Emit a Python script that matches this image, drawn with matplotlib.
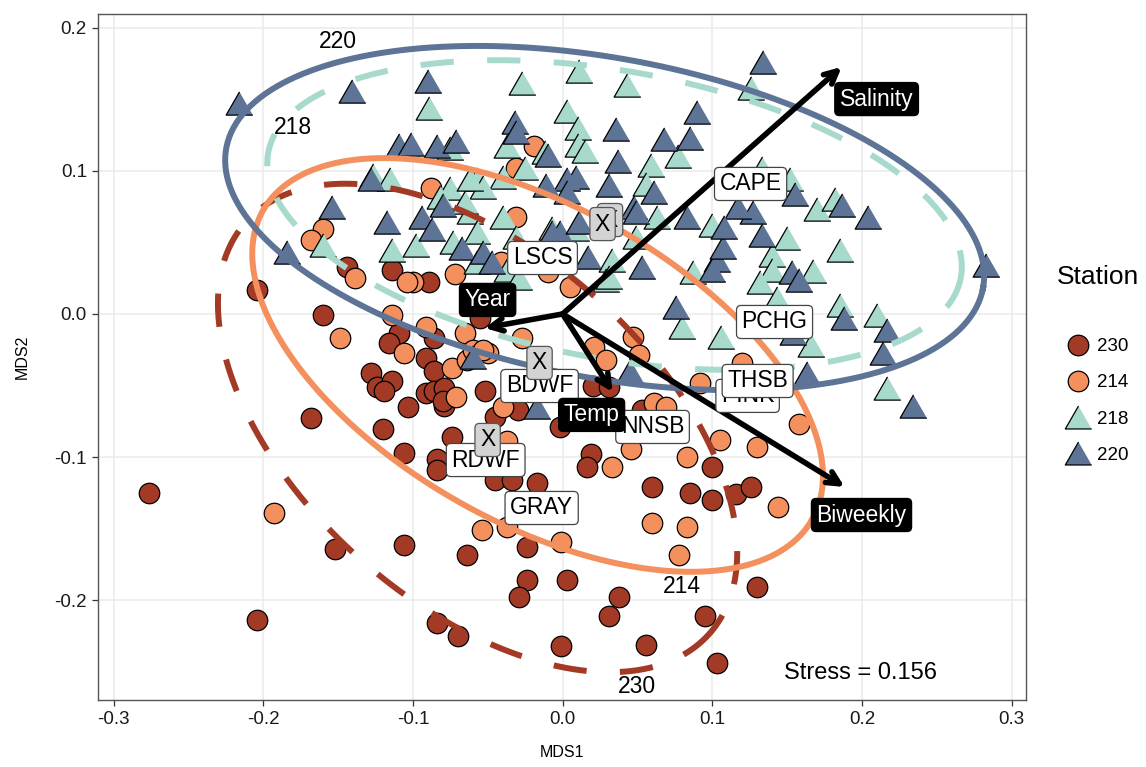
import numpy as np
import matplotlib
matplotlib.use('Agg')
import matplotlib.pyplot as plt
from matplotlib.lines import Line2D

plt.rcParams['font.family'] = ['Liberation Sans', 'DejaVu Sans']
plt.rcParams['lines.scale_dashes'] = False

# station 230
s230_x = [-0.276, -0.204, -0.204, -0.160, -0.168, -0.152, -0.106, -0.084, -0.070, -0.128,
          -0.124, -0.114, -0.119, -0.103, -0.120, -0.106, -0.084, -0.084, -0.114, -0.109,
          -0.116, -0.089, -0.091, -0.086, -0.086, -0.091, -0.086, -0.079, -0.079, -0.074,
          -0.144, -0.052, -0.045, -0.030, -0.080, -0.045, -0.034, -0.017, -0.064, -0.024,
          -0.024, -0.029, 0.003, -0.001, 0.019, 0.016, 0.020, 0.031, 0.053, -0.002,
          0.060, 0.085, 0.100, 0.116, 0.126, 0.100, 0.038, 0.031, 0.095, 0.130,
          0.056, 0.103, -0.062, -0.055]
s230_y = [-0.125, -0.214, 0.017, -0.001, -0.073, -0.164, -0.161, -0.216, -0.225, -0.041,
          -0.051, -0.047, -0.054, -0.065, -0.080, -0.097, -0.101, -0.109, 0.031, -0.013,
          -0.020, 0.022, -0.031, -0.040, -0.017, -0.055, -0.054, -0.064, -0.052, -0.086,
          0.033, -0.054, -0.072, -0.067, -0.061, -0.116, -0.116, -0.118, -0.168, -0.163,
          -0.186, -0.198, -0.186, -0.232, -0.098, -0.107, -0.050, -0.051, -0.067, -0.079,
          -0.121, -0.125, -0.130, -0.126, -0.121, -0.107, -0.198, -0.211, -0.211, -0.191,
          -0.231, -0.244, 0.006, -0.003]

# station 214
s214_x = [-0.088, -0.160, -0.168, -0.100, -0.072, -0.139, -0.149, -0.114, -0.106, -0.104,
          -0.091, -0.074, -0.064, -0.071, -0.065, -0.060, -0.050, -0.019, -0.031, -0.031,
          -0.041, 0.005, -0.010, -0.027, -0.053, -0.037, -0.040, 0.021, 0.029, 0.047,
          0.051, 0.061, 0.069, 0.033, 0.046, 0.083, 0.105, 0.130, 0.120, 0.158,
          0.144, 0.060, 0.083, 0.078, -0.054, -0.037, -0.001, -0.193, 0.092]
s214_y = [0.088, 0.059, 0.052, 0.022, 0.028, 0.025, -0.017, -0.001, -0.027, 0.022,
          -0.009, -0.038, -0.032, -0.058, -0.013, -0.025, -0.027, 0.117, 0.102, 0.068,
          0.036, 0.019, 0.029, -0.017, -0.025, -0.089, -0.065, -0.023, -0.032, -0.016,
          -0.029, -0.062, -0.065, -0.107, -0.094, -0.100, -0.088, -0.093, -0.034, -0.077,
          -0.135, -0.146, -0.149, -0.168, -0.151, -0.149, -0.159, -0.139, -0.048]

# station 218
s218_x = [-0.089, -0.027, 0.011, 0.043, 0.126, 0.003, -0.037, -0.012, -0.025, -0.040,
          -0.057, -0.053, 0.010, 0.010, 0.015, 0.077, 0.059, 0.056, 0.063, 0.100,
          -0.040, -0.007, -0.062, -0.031, -0.057, 0.033, 0.049, 0.087, 0.029, -0.037,
          -0.029, -0.127, -0.115, -0.075, -0.075, -0.065, -0.082, -0.114, -0.098, -0.073,
          -0.160, -0.062, -0.057, 0.133, 0.152, 0.170, 0.182, 0.150, 0.140, 0.140,
          0.167, 0.132, 0.143, 0.185, 0.185, 0.210, 0.217, 0.166, 0.080, 0.106,
          0.009, 0.031]
s218_y = [0.144, 0.161, 0.170, 0.160, 0.158, 0.142, 0.117, 0.113, 0.102, 0.096,
          0.094, 0.089, 0.130, 0.118, 0.114, 0.110, 0.104, 0.091, 0.068, 0.062,
          0.068, 0.060, 0.071, 0.054, 0.036, 0.038, 0.054, 0.029, 0.024, 0.031,
          0.025, 0.097, 0.094, 0.116, 0.088, 0.078, 0.082, 0.045, 0.048, 0.050,
          0.048, 0.094, 0.057, 0.102, 0.094, 0.073, 0.080, 0.053, 0.041, 0.031,
          0.030, 0.022, 0.011, 0.045, 0.006, -0.001, -0.052, -0.022, -0.009, -0.016,
          0.059, 0.026]

# station 220
s220_x = [-0.216, -0.141, -0.090, -0.109, -0.101, -0.084, -0.071, -0.128, -0.154, -0.117,
          -0.094, -0.087, -0.080, -0.067, -0.184, -0.032, -0.031, -0.010, 0.036, 0.037,
          0.068, 0.085, 0.090, 0.009, 0.003, 0.003, 0.031, 0.061, 0.048, 0.049,
          0.083, -0.002, 0.011, -0.053, -0.047, 0.017, 0.053, 0.103, 0.107, 0.134,
          0.155, 0.187, 0.204, 0.127, 0.117, 0.108, 0.133, 0.153, 0.158, 0.100,
          0.076, 0.188, 0.217, 0.214, 0.283, 0.154, 0.163, 0.234, -0.007, -0.011,
          -0.060, -0.017, 0.045]
s220_y = [0.147, 0.156, 0.163, 0.118, 0.119, 0.117, 0.121, 0.094, 0.075, 0.064,
          0.068, 0.059, 0.076, 0.046, 0.043, 0.134, 0.127, 0.111, 0.129, 0.107,
          0.122, 0.123, 0.141, 0.096, 0.094, 0.085, 0.090, 0.085, 0.075, 0.071,
          0.068, 0.057, 0.064, 0.043, 0.036, 0.040, 0.033, 0.038, 0.047, 0.176,
          0.084, 0.076, 0.068, 0.071, 0.075, 0.061, 0.055, 0.029, 0.024, 0.031,
          0.005, -0.003, -0.011, -0.027, 0.034, -0.013, -0.041, -0.064, 0.057, 0.090,
          -0.030, -0.065, -0.040]

stations = ['230', '214', '218', '220']
colors = ['#A33A26', '#F4905E', '#A7DACD', '#5D7496']

# ellipses: centre and two conjugate semi-axes
ell_cx = [-0.0568, -0.0167, 0.0347, 0.0281]
ell_cy = [-0.0796, -0.0356, 0.0691, 0.0670]
ell_ux = [0.1549, 0.1835, 0.2314, 0.2528]
ell_uy = [-0.1437, -0.1078, -0.0435, -0.0489]
ell_vx = [-0.0781, -0.0517, -0.0170, -0.0194]
ell_vy = [-0.0919, -0.0962, -0.0990, -0.1098]
ell_dashed = [True, False, True, False]
ell_lab_x = [0.0494, 0.0795, -0.180, -0.150]
ell_lab_y = [-0.2605, -0.1906, 0.130, 0.190]

# environmental vectors
vec_names = ['Salinity', 'Year', 'Temp', 'Biweekly']
vec_x = [0.1864, -0.0521, 0.0334, 0.1884]
vec_y = [0.1725, -0.0098, -0.0545, -0.1208]
vec_lab_x = [0.2098, -0.0501, 0.0194, 0.1997]
vec_lab_y = [0.1501, 0.0098, -0.0705, -0.1404]

# sites
site_names = ['PINK', 'CAPE', 'LSCS', 'PCHG', 'THSB', 'BDWF', 'NNSB', 'RDWF', 'GRAY']
site_x = [0.1236, 0.1256, -0.0134, 0.1416, 0.1303, -0.0154, 0.0601, -0.0514, -0.0140]
site_y = [-0.0572, 0.0908, 0.0391, -0.0056, -0.0468, -0.0503, -0.0789, -0.1020, -0.1355]

x_mark_x = [0.0317, 0.0267, -0.0154, -0.0501]
x_mark_y = [0.0656, 0.0628, -0.0342, -0.0880]

fig = plt.figure(figsize=(11.46, 7.67), dpi=100)
ax = fig.add_axes([98 / 1146, 67 / 767, 928 / 1146, 686 / 767])

tri = [(0, 1), (-1.15, -1), (1.15, -1)]
pts = [(s230_x, s230_y, 'o', 218), (s214_x, s214_y, 'o', 218),
       (s218_x, s218_y, tri, 370), (s220_x, s220_y, tri, 370)]
for (px, py, mk, sz), col in zip(pts, colors):
    ax.scatter(px, py, s=sz, marker=mk, c=col, edgecolors='black', linewidths=0.9, zorder=3)

t = np.linspace(0, 2 * np.pi, 400)
for i in range(4):
    ex = ell_cx[i] + ell_ux[i] * np.cos(t) + ell_vx[i] * np.sin(t)
    ey = ell_cy[i] + ell_uy[i] * np.cos(t) + ell_vy[i] * np.sin(t)
    if ell_dashed[i]:
        ax.plot(ex, ey, color=colors[i], lw=4.3, dashes=(24, 24), zorder=4)
    else:
        ax.plot(ex, ey, color=colors[i], lw=4.3, zorder=4)
    ax.text(ell_lab_x[i], ell_lab_y[i], stations[i], fontsize=16.5, ha='center', va='center', zorder=5)

for i in range(4):
    ax.annotate('', xy=(vec_x[i], vec_y[i]), xytext=(0, 0),
                arrowprops=dict(arrowstyle='->,head_length=0.9,head_width=0.45', color='black',
                                lw=4.0, shrinkA=0, shrinkB=0), zorder=6)

box_w = dict(boxstyle='round,pad=0.22,rounding_size=0.2', fc='white', ec='#444444', lw=0.9)
for name, sx, sy in zip(site_names, site_x, site_y):
    ax.text(sx, sy, name, fontsize=16.5, ha='center', va='center', bbox=box_w, zorder=7)

box_x = dict(boxstyle='round,pad=0.22,rounding_size=0.2', fc='#D3D3D3', ec='#555555', lw=0.9)
for mx, my in zip(x_mark_x, x_mark_y):
    ax.text(mx, my, 'X', fontsize=16.5, ha='center', va='center', bbox=box_x, zorder=8)

box_k = dict(boxstyle='round,pad=0.22,rounding_size=0.2', fc='black', ec='black', lw=0.9)
for name, lx, ly in zip(vec_names, vec_lab_x, vec_lab_y):
    ax.text(lx, ly, name, fontsize=16.5, color='white', ha='center', va='center', bbox=box_k, zorder=9)

ax.text(0.199, -0.2507, 'Stress = 0.156', fontsize=17, ha='center', va='center', zorder=5)

ax.set_xlim(-0.3104, 0.3096)
ax.set_ylim(-0.2696, 0.2095)
ax.set_xticks([-0.3, -0.2, -0.1, 0.0, 0.1, 0.2, 0.3])
ax.set_xticklabels(['-0.3', '-0.2', '-0.1', '0.0', '0.1', '0.2', '0.3'])
ax.set_yticks([-0.2, -0.1, 0.0, 0.1, 0.2])
ax.set_yticklabels(['-0.2', '-0.1', '0.0', '0.1', '0.2'])
ax.tick_params(labelsize=13.5, length=4, width=0.9, color='#333333', labelcolor='#1a1a1a', pad=4)
ax.grid(True, color='#EBEBEB', lw=1.1)
ax.set_axisbelow(True)
for sp in ax.spines.values():
    sp.set_color('#555555')
    sp.set_linewidth(1.0)
ax.set_xlabel('MDS1', fontsize=11.5, labelpad=12)
ax.set_ylabel('MDS2', fontsize=11.5, labelpad=18)

handles = [Line2D([], [], ls='none', marker='o', ms=14.8, mfc=colors[0], mec='black', mew=0.9),
           Line2D([], [], ls='none', marker='o', ms=14.8, mfc=colors[1], mec='black', mew=0.9),
           Line2D([], [], ls='none', marker=tri, ms=19, mfc=colors[2], mec='black', mew=0.9),
           Line2D([], [], ls='none', marker=tri, ms=19, mfc=colors[3], mec='black', mew=0.9)]
fig.text(1057 / 1146, 1 - 277 / 767, 'Station', fontsize=19, ha='left', va='center')
fig.legend(handles, stations, loc='center left',
           bbox_to_anchor=(1063 / 1146, 1 - 401 / 767), frameon=False,
           fontsize=13.5, handletextpad=0.2, labelspacing=1.02, borderpad=0,
           handlelength=1.6, borderaxespad=0)

fig.savefig('out.png', dpi=100)
